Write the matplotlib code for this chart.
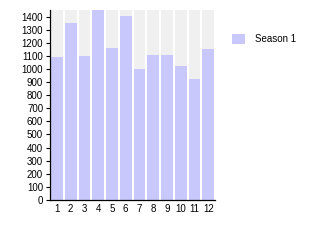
import numpy as np
import matplotlib.pyplot as plt
import matplotlib as mpl

mpl.rcParams.update({"font.family": ["Liberation Sans", "DejaVu Sans"], "font.size": 7})

# data
months = [str(i) for i in range(1, 13)]
season1 = [1088, 1349, 1098, 1460, 1162, 1408, 997, 1109, 1103, 1022, 926, 1149]
y_ticks = list(range(0, 1500, 100))
y_max = 1450

fig = plt.figure(figsize=(3.15, 2.5), dpi=100)
ax = fig.add_axes([0.159, 0.2, 0.524, 0.76])

x = np.arange(len(months))
# grey column backgrounds
ax.bar(x, [y_max] * len(months), width=0.86, color='#f0f0f0', zorder=1)
ax.bar(x, season1, width=0.86, color='#c8c8fc', zorder=2, label='Season 1')

ax.set_xlim(-0.5, len(months) - 0.5)
ax.set_ylim(0, y_max)
ax.set_xticks(x)
ax.set_xticklabels(months)
ax.set_yticks(y_ticks)
ax.tick_params(axis='x', length=0, pad=3)
ax.tick_params(axis='y', length=3, width=0.8, pad=2)
for s in ['top', 'right']:
    ax.spines[s].set_visible(False)
ax.spines['left'].set_linewidth(0.9)
ax.spines['bottom'].set_linewidth(0.9)

handles, labels = ax.get_legend_handles_labels()
fig.legend(handles[-1:], labels[-1:], loc='upper left', bbox_to_anchor=(0.71, 0.9),
           frameon=False, handlelength=1.3, handleheight=1.3, handletextpad=1.0,
           fontsize=7)

fig.savefig('out.png', dpi=100)
